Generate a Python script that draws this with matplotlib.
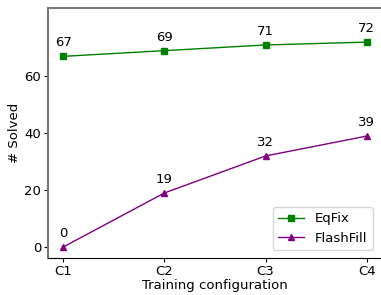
import matplotlib
matplotlib.use("Agg")
import matplotlib.pyplot as plt

configs = ["C1", "C2", "C3", "C4"]
eqfix = [67, 69, 71, 72]
flashfill = [0, 19, 32, 39]

fs = 9.5
fig = plt.figure(figsize=(3.81, 2.95), dpi=100)
ax = fig.add_axes([0.126, 0.125, 0.874, 0.848])
x = list(range(len(configs)))
ax.plot(x, eqfix, color="green", marker="s", markersize=5, linewidth=1, label="EqFix")
ax.plot(x, flashfill, color="purple", marker="^", markersize=5, linewidth=1, label="FlashFill")
for xi, v in zip(x, eqfix):
    ax.annotate(str(v), (xi, v), textcoords="offset points", xytext=(0, 5), ha="center", va="bottom", fontsize=fs)
for xi, v in zip(x, flashfill):
    ax.annotate(str(v), (xi, v), textcoords="offset points", xytext=(0, 5), ha="center", va="bottom", fontsize=fs)
ax.set_xticks(x)
ax.set_xticklabels(configs)
ax.set_yticks([0, 20, 40, 60])
ax.set_xlim(-0.15, 3.14)
ax.set_ylim(-3.9, 84)
ax.set_xlabel("Training configuration", fontsize=fs, labelpad=1)
ax.set_ylabel("# Solved", fontsize=fs, labelpad=2)
ax.tick_params(labelsize=fs, length=3, pad=2)
for s in ["left", "top"]:
    ax.spines[s].set_color("#777777")
    ax.spines[s].set_linewidth(1.5)
ax.spines["right"].set_visible(False)
ax.spines["bottom"].set_color("black")
ax.legend(loc="lower right", fontsize=fs, bbox_to_anchor=(0.995, 0.005))
fig.savefig("out.png", dpi=100)
